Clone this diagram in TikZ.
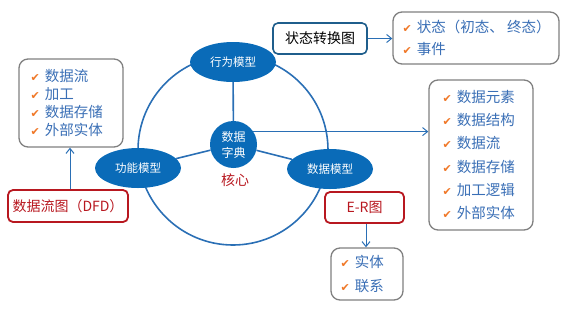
\documentclass[tikz,border=0pt]{standalone}
\usepackage{fontspec}
\setmainfont{Noto Sans CJK SC}
\newfontfamily\dvs{DejaVu Sans}
\usetikzlibrary{arrows.meta,shapes.geometric}
\definecolor{mblue}{HTML}{0A6BB8}
\definecolor{lblue}{HTML}{2A6FB5}
\definecolor{ltext}{HTML}{3A6FB6}
\definecolor{ckor}{HTML}{F07828}
\definecolor{dred}{HTML}{B81820}
\definecolor{gbord}{HTML}{808080}
\definecolor{dbord}{HTML}{1F5E8C}
\newcommand{\ckm}{{\color{ckor}\dvs\fontsize{11}{11}\selectfont ✔}\hspace{5pt}}
\begin{document}
\begin{tikzpicture}[x=1pt,y=-1pt,
  ell/.style={ellipse, fill=mblue, minimum width=86pt, minimum height=40pt, inner sep=0pt, text=white, font=\fontsize{11.5}{13}\selectfont},
  conn/.style={draw=lblue, line width=1.6pt},
  arr/.style={draw=lblue, line width=1pt, -{Straight Barb[length=5pt,width=8pt]}},
  listbox/.style={draw=gbord, line width=1.3pt, rounded corners=9pt, fill=white},
  redbox/.style={draw=dred, line width=1.8pt, rounded corners=5pt, text=dred, font=\fontsize{14}{16}\selectfont, inner sep=0pt},
  items/.style={anchor=west, inner sep=0pt, align=left, text=ltext}]
\useasboundingbox (0,0) rectangle (564,314);
% big circle
\draw[conn] (233,150) circle[radius=95pt];
% core nodes
\node[circle, fill=mblue, minimum size=47pt, inner sep=0pt, text=white, align=center, font=\fontsize{12}{16}\selectfont] (dict) at (233.5,144.5) {数据\\字典};
\node[ell] (beh) at (233,62) {行为模型};
\node[ell] (fun) at (138,168) {功能模型};
\node[ell] (dat) at (330,169) {数据模型};
\draw[conn] (dict) -- (beh);
\draw[conn] (dict) -- (fun);
\draw[conn] (dict) -- (dat);
\node[text=dred, font=\fontsize{14}{16}\selectfont] (core) at (235,180) {核心};
% boxes
\node[listbox, minimum width=104pt, minimum height=88pt] (tl) at (71,103) {};
\node[items, font=\fontsize{14.5}{18}\selectfont] (tlt) at ([xshift=12pt]tl.west) {\ckm 数据流\\\ckm 加工\\\ckm 数据存储\\\ckm 外部实体};
\node[redbox, minimum width=120pt, minimum height=32pt] (dfd) at (68,206) {数据流图（DFD）};
\node[draw=dbord, line width=1.6pt, rounded corners=5pt, minimum width=94pt, minimum height=31pt, inner sep=0pt, fill=white, font=\fontsize{14}{16}\selectfont] (st) at (320,38.5) {状态转换图};
\node[listbox, minimum width=166pt, minimum height=52pt] (trb) at (476,38) {};
\node[items, font=\fontsize{14.5}{22}\selectfont] (trbt) at ([xshift=10pt]trb.west) {\ckm 状态（初态、 终态）\\\ckm 事件};
\node[listbox, minimum width=104pt, minimum height=150pt] (rb) at (481,155) {};
\node[items, font=\fontsize{14.5}{23.2}\selectfont] (rbt) at ([xshift=14pt]rb.west) {\ckm 数据元素\\\ckm 数据结构\\\ckm 数据流\\\ckm 数据存储\\\ckm 加工逻辑\\\ckm 外部实体};
\node[redbox, minimum width=79pt, minimum height=31pt] (er) at (364.5,207.5) {E-R图};
\node[listbox, minimum width=72pt, minimum height=52pt] (bb) at (367,274) {};
\node[items, font=\fontsize{14.5}{24}\selectfont] (bbt) at ([xshift=10pt]bb.west) {\ckm 实体\\\ckm 联系};
% arrows
\draw[arr] ([xshift=2pt]dfd.north) -- ([xshift=2pt]dfd.north |- tl.south);
\draw[arr] (st.east) -- (st.east -| trb.west);
\draw[arr] (dict.33) -- (dict.33 -| rb.west);
\draw[arr] ([xshift=1.5pt]er.south) -- ([xshift=1.5pt]er.south |- bb.north);
\end{tikzpicture}
\end{document}
